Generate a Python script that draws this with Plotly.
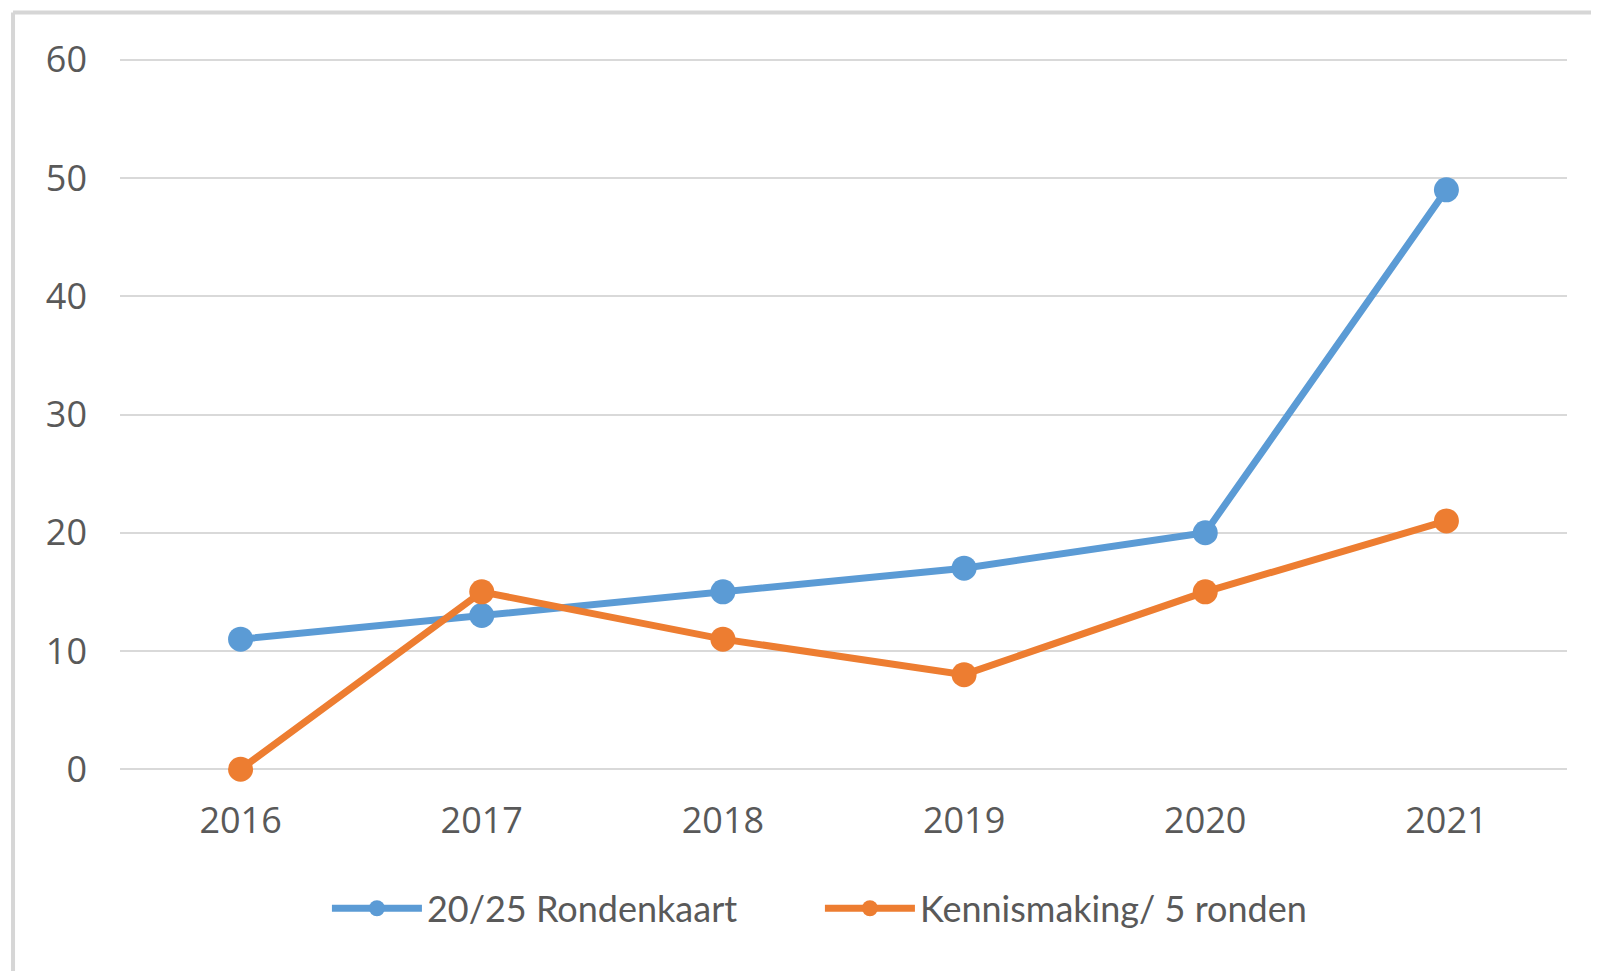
import plotly.graph_objects as go

years = ["2016", "2017", "2018", "2019", "2020", "2021"]
rondenkaart = [11, 13, 15, 17, 20, 49]
kennismaking = [0, 15, 11, 8, 15, 21]
series_names = ["20/25 Rondenkaart", "Kennismaking/ 5 ronden"]
y_ticks = [0, 10, 20, 30, 40, 50, 60]

BLUE = "#5B9BD5"
ORANGE = "#ED7D31"
TEXT = "#595959"

OFF = 8  # page body margin
Y0_PX, Y60_PX = 769.0, 60.2
K = (Y0_PX - Y60_PX) / 60.0
PAD = 0.15
top_px = Y60_PX - PAD * K
bot_px = Y0_PX + PAD * K

W, H = 1599 - OFF, 971 - OFF
L, T = 120 - OFF, top_px - OFF
R = W - (1567.5 - OFF)
B = H - (bot_px - OFF)
pw, ph = W - L - R, H - T - B

def px_to_paper_x(px):
    return (px - OFF - L) / pw

def px_to_paper_y(py):
    return (bot_px - py) / ph

fig = go.Figure()
for name, vals, col in [(series_names[0], rondenkaart, BLUE), (series_names[1], kennismaking, ORANGE)]:
    fig.add_trace(go.Scatter(
        x=years, y=vals, name=name, mode="lines+markers",
        line=dict(color=col, width=7),
        marker=dict(color=col, size=25),
        cliponaxis=False,
    ))

border = "#D6D6D6"
bx = px_to_paper_x(13)
by = px_to_paper_y(13)
fig.add_shape(type="line", xref="paper", yref="paper", x0=bx, x1=bx, y0=by, y1=px_to_paper_y(1000),
              line=dict(color=border, width=4), layer="below")
fig.add_shape(type="line", xref="paper", yref="paper", x0=bx, x1=px_to_paper_x(1650), y0=by, y1=by,
              line=dict(color=border, width=4), layer="below")

fig.update_layout(
    width=W, height=H,
    margin=dict(l=L, r=R, t=T, b=B, autoexpand=False),
    paper_bgcolor="white", plot_bgcolor="white",
    font=dict(family="Open Sans", color=TEXT, size=35),
    showlegend=True,
    legend=dict(orientation="h", x=px_to_paper_x(327), xanchor="left",
                y=px_to_paper_y(908), yanchor="middle",
                font=dict(family="Lato", size=36, color=TEXT),
                itemsizing="trace", itemwidth=90, entrywidth=388,
                bgcolor="rgba(0,0,0,0)"),
    xaxis=dict(type="category", range=[-0.5, 5.5], showgrid=False, zeroline=False,
               showline=False, ticks="", ticklabelstandoff=25,
               tickfont=dict(family="Open Sans", size=36, color=TEXT)),
    yaxis=dict(range=[-PAD, 60 + PAD], tickvals=y_ticks, showgrid=True, gridcolor="#D9D9D9",
               gridwidth=2, zeroline=False, showline=False, ticks="",
               ticklabelstandoff=32,
               tickfont=dict(family="Open Sans", size=36, color=TEXT)),
)

fig.write_html("out.html")
